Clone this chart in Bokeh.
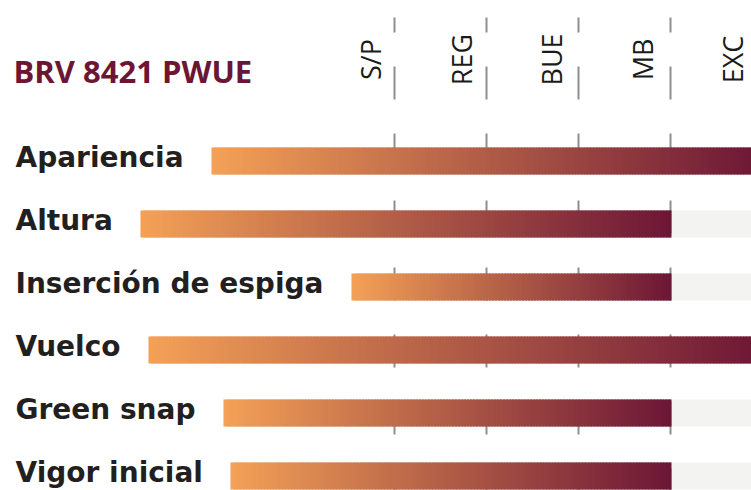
import subprocess
import numpy as np
from bokeh.plotting import figure
from bokeh.models import Range1d
from bokeh.embed import file_html
from bokeh.resources import INLINE
from bokeh.core.properties import value

# ---------------- data ----------------
title_text = "BRV 8421 PWUE"
levels = ["S/P", "REG", "BUE", "MB", "EXC"]
level_scores = [1, 2, 3, 4, 5]
traits = ["Apariencia", "Altura", "Inserción de espiga", "Vuelco", "Green snap", "Vigor inicial"]
scores = [5, 4, 4, 5, 4, 4]

# ---------------- layout (pixels) ----------------
W, H = 751, 490
PX_PER_SCORE = 92.0
ZERO_PX = 302.0          # figure x pixel of score 0
ROW_PX = 63.0
FIRST_ROW_PX = 160.5     # figure y pixel of first row centre
BAR_H_PX = 27.0
LABEL_FONT_PX = 28
LABEL_LEFT_PX = 15.0
GAP_PX = 28.0
HEADER_FIRST_PX = 370.0
HEADER_STEP_PX = 90.5
SLICE_PX = 3.0
OVERLAP_PX = 2.0

x_lo = -ZERO_PX / PX_PER_SCORE
x_hi = x_lo + W / PX_PER_SCORE
y_top = -FIRST_ROW_PX / ROW_PX
y_bot = y_top + H / ROW_PX


def px_x(fx):
    return x_lo + fx / PX_PER_SCORE


def px_y(fy):
    return y_top + fy / ROW_PX


def text_width(s, size):
    try:
        from PIL import ImageFont
        path = None
        try:
            path = subprocess.run(["fc-match", "-f", "%{file}", "DejaVu Sans:bold"],
                                  capture_output=True, text=True).stdout.strip()
        except Exception:
            path = None
        for cand in [path, "/usr/share/fonts/truetype/dejavu/DejaVuSans-Bold.ttf", "DejaVuSans-Bold.ttf"]:
            if not cand:
                continue
            try:
                f = ImageFont.truetype(cand, size)
                return float(f.getlength(s))
            except Exception:
                continue
    except Exception:
        pass
    return len(s) * 0.6 * size


rows = list(range(len(traits)))
half = BAR_H_PX / 2 / ROW_PX
start_px = [int(round(LABEL_LEFT_PX + text_width(t, LABEL_FONT_PX) + GAP_PX)) for t in traits]
starts = [px_x(sp) for sp in start_px]

p = figure(width=W, height=H, x_range=Range1d(x_lo, x_hi), y_range=Range1d(y_bot, y_top),
           output_backend="svg", toolbar_location=None, min_border=0,
           x_axis_location=None, y_axis_location=None)
p.grid.visible = False
p.outline_line_color = None
p.background_fill_color = "white"
p.border_fill_color = "white"

# light grey track behind each bar
p.quad(left=starts, right=[x_hi + 1] * len(rows),
       top=[r - half for r in rows], bottom=[r + half for r in rows],
       fill_color="#F3F3F1", line_color=None)

# dashed column lines
p.segment(x0=level_scores, x1=level_scores, y0=[px_y(17)] * len(level_scores),
          y1=[y_bot + 1] * len(level_scores), line_color="#8E8E8E", line_width=2,
          line_dash="33 34", line_dash_offset=18)

# gradient bars: slightly overlapping slices from the bar start to the score
c0 = np.array([0xF4, 0xA1, 0x57], dtype=float)
c1 = np.array([0x6C, 0x16, 0x36], dtype=float)
L, R, T, B, C = [], [], [], [], []
for r, s, v in zip(rows, starts, scores):
    e = v + 1 / PX_PER_SCORE
    n = max(1, int(round((e - s) * PX_PER_SCORE / SLICE_PX)))
    edges = np.linspace(s, e, n + 1)
    for k in range(n):
        t = (k + 0.5) / n
        col = c0 + (c1 - c0) * t
        L.append(edges[k])
        R.append(min(edges[k + 1] + OVERLAP_PX / PX_PER_SCORE, e))
        T.append(r - half)
        B.append(r + half)
        C.append("#%02x%02x%02x" % tuple(int(round(c)) for c in col))
p.quad(left=L, right=R, top=T, bottom=B, fill_color=C, line_color=None)

# trait labels
p.text(x=[px_x(LABEL_LEFT_PX)] * len(rows), y=[r - 3.5 / ROW_PX for r in rows], text=traits,
       text_font=value("DejaVu Sans"), text_font_style="bold",
       text_font_size=f"{LABEL_FONT_PX}px", text_color="#231F20",
       text_align="left", text_baseline="middle")

# title
p.text(x=[px_x(13)], y=[px_y(70)], text=[title_text],
       text_font=value("Open Sans"), text_font_style="bold", text_font_size="31px",
       text_color="#6C1535", text_align="left", text_baseline="middle")

# rotated column headers
header_x = [px_x(HEADER_FIRST_PX + (s - 1) * HEADER_STEP_PX) for s in level_scores]
p.text(x=header_x, y=[px_y(59)] * len(levels), text=levels,
       angle=np.pi / 2, text_font=value("Open Sans"), text_font_size="27px",
       text_color="#1A1A1A", text_align="center", text_baseline="middle")

open("out.html", "w").write(file_html(p, INLINE))
